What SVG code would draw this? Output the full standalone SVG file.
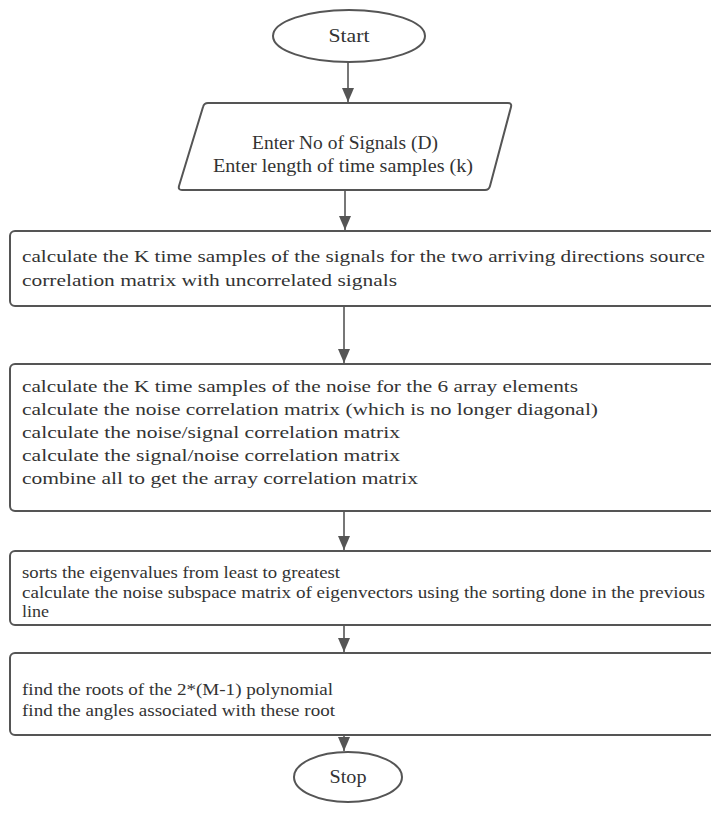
<svg xmlns="http://www.w3.org/2000/svg" width="711" height="829" viewBox="0 0 711 829">
<defs>
<marker id="ah" markerWidth="14" markerHeight="12" refX="14" refY="6" orient="auto" markerUnits="userSpaceOnUse" viewBox="0 0 14 12">
<path d="M0,0 L14,6 L0,12 Z" fill="#555"/>
</marker>
<style>
.shape{fill:#fff;stroke:#555;stroke-width:2}
.t{font-family:"Liberation Serif",serif;fill:#333}
.big{font-size:18px}
.mid{font-size:17.5px}
.sm{font-size:16px}
.conn line{stroke:#555;stroke-width:1.6}
</style>
</defs>
<rect width="711" height="829" fill="#fff"/>
<g id="start">
<ellipse class="shape" cx="349" cy="36" rx="76" ry="26"/>
<text class="t big" x="349" y="42" text-anchor="middle" textLength="41" lengthAdjust="spacingAndGlyphs">Start</text>
</g>
<g id="input">
<path class="shape" d="M208,103 L508,103 Q512,103 511,107 L490,186 Q489,190 485,190 L182,190 Q178,190 179,186 L203,107 Q204,103 208,103 Z"/>
<text class="t big" x="345" y="149" text-anchor="middle" textLength="186" lengthAdjust="spacingAndGlyphs">Enter No of Signals (D)</text>
<text class="t big" x="343" y="172" text-anchor="middle" textLength="260" lengthAdjust="spacingAndGlyphs">Enter length of time samples (k)</text>
</g>
<g id="step1">
<rect class="shape" x="10" y="231" width="720" height="75" rx="5"/>
<text class="t mid" x="22" y="262" textLength="683" lengthAdjust="spacingAndGlyphs">calculate the K time samples of the signals for the two arriving directions source</text>
<text class="t mid" x="22" y="286" textLength="375" lengthAdjust="spacingAndGlyphs">correlation matrix with uncorrelated signals</text>
</g>
<g id="step2">
<rect class="shape" x="10" y="364" width="720" height="147" rx="5"/>
<text class="t mid" x="22" y="392" textLength="556" lengthAdjust="spacingAndGlyphs">calculate the K time samples of the noise for the 6 array elements</text>
<text class="t mid" x="22" y="415" textLength="576" lengthAdjust="spacingAndGlyphs">calculate the noise correlation matrix (which is no longer diagonal)</text>
<text class="t mid" x="22" y="438" textLength="378" lengthAdjust="spacingAndGlyphs">calculate the noise/signal correlation matrix</text>
<text class="t mid" x="22" y="461" textLength="378" lengthAdjust="spacingAndGlyphs">calculate the signal/noise correlation matrix</text>
<text class="t mid" x="22" y="484" textLength="396" lengthAdjust="spacingAndGlyphs">combine all to get the array correlation matrix</text>
</g>
<g id="step3">
<rect class="shape" x="10" y="551" width="720" height="74" rx="5"/>
<text class="t sm" x="22" y="578" textLength="318" lengthAdjust="spacingAndGlyphs">sorts the eigenvalues from least to greatest</text>
<text class="t sm" x="22" y="598" textLength="683" lengthAdjust="spacingAndGlyphs">calculate the noise subspace matrix of eigenvectors using the sorting done in the previous</text>
<text class="t sm" x="22" y="617" textLength="27" lengthAdjust="spacingAndGlyphs">line</text>
</g>
<g id="step4">
<rect class="shape" x="10" y="653" width="720" height="82" rx="5"/>
<text class="t sm" x="22" y="695" textLength="311" lengthAdjust="spacingAndGlyphs">find the roots of the 2*(M-1) polynomial</text>
<text class="t sm" x="22" y="716" textLength="313" lengthAdjust="spacingAndGlyphs">find the angles associated with these root</text>
</g>
<g id="stop">
<ellipse class="shape" cx="348" cy="777" rx="54" ry="25"/>
<text class="t big" x="348" y="783" text-anchor="middle" textLength="37" lengthAdjust="spacingAndGlyphs">Stop</text>
</g>
<g id="connectors" class="conn">
<line x1="348" y1="62" x2="348" y2="102" marker-end="url(#ah)"/>
<line x1="345" y1="190" x2="345" y2="230" marker-end="url(#ah)"/>
<line x1="344" y1="306" x2="344" y2="363" marker-end="url(#ah)"/>
<line x1="344" y1="511" x2="344" y2="550" marker-end="url(#ah)"/>
<line x1="344" y1="625" x2="344" y2="652" marker-end="url(#ah)"/>
<line x1="344" y1="735" x2="344" y2="751" marker-end="url(#ah)"/>
</g>
</svg>
